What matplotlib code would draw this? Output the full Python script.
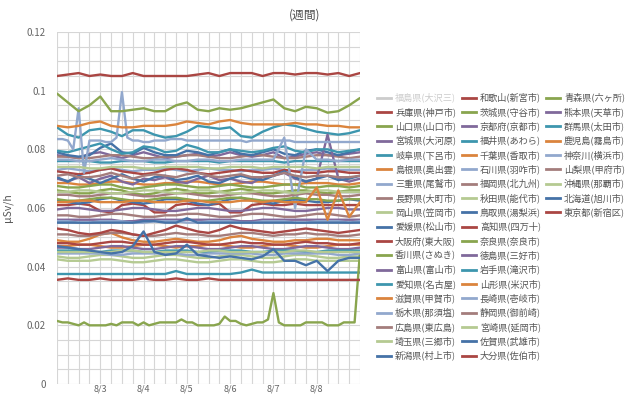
import numpy as np
import matplotlib
matplotlib.use("Agg")
import matplotlib.pyplot as plt
from matplotlib.lines import Line2D

plt.rcParams['font.family'] = ['Noto Sans CJK JP', 'DejaVu Sans']

# readings in nSv/h (divide by 1000 for µSv/h), evenly spaced from 8/2 00:00 to 8/9 00:00
hyogo = [105,105.5,106,105,105.5,105,105,106,105,105,105,105,105,105.5,106,105,106,106,106,105,106,106,105.5,106,106,105.5,106,105,106]
yamaguchi = [66,65.5,65,65,66,66.5,66,65,64.5,65,66,66.5,66,65,65,65.5,66,66.5,66,65,65,65.5,66,66,65.5,65,65.5,66,66]
miyagi = [78,77.5,77,78.5,79,78,77,78,79,78,77,77.5,78,78.5,77.5,78,79,78,77.5,78,79,77,77.5,78.5,79,78,78,78.5,79]
gifu = [87.5,85,84,86.5,87,86,84.5,86.5,86.5,85,84,84.5,86,88,87.5,87,87.5,84.5,84,86,87.5,88.5,88,87,86,85.5,85,85.5,86.5]
shimane = [68.5,68.5,68,68,68.5,69,69,68.5,68,68,68.5,68.5,69,69,68.5,68,68,68.5,69,69,68.5,68,68,68.5,68.5,68.5,68,68,68.5]
mie = [73,73.5,73,72.5,73,73.5,73,72.5,73,73,73.5,73,72.5,73,73.5,73,73,72.5,73,73,73.5,73,72.5,73,73,73.5,73,73,73]
nagano = [77.5,77.5,77,77,77.5,78,78,77.5,77,77,77.5,77.5,78,78,77.5,77,77,77.5,78,78,77.5,77,77,77.5,78,78,77.5,77,77.5]
okayama = [42.5,42,42,42,42.5,42.5,42,41.5,41.5,42,42.5,42.5,42,41.5,41.5,42,42.5,42.5,42,41.5,41.5,42,42.5,42.5,42,42,42,42,42]
ehime = [79,78,77.5,78,80.5,82,79,78.5,80.5,79,78,78,79.5,79,78,79,80,78.5,78,79,80,78.5,78,79.5,80,79,78,79,80]
osaka = [72.5,72,71.5,72,73,73.5,72.5,72,71.5,72,73,73.5,73,72,71.5,72,72.5,73,72.5,72,72,73,72.5,72,72,72.5,72.5,72,72]
kagawa = [67.5,67,67,67.5,68,68,67,66.5,67,67.5,68,68,67.5,67,67,67.5,68,67.5,67,67,67.5,68,68,67,67,67.5,67.5,67,67.5]
toyama = [70,69,70.5,68.5,70,71,69,68,70,69.5,70.5,69,68.5,70,71,69.5,70,69,68.5,70.5,71,72,70,69,70,85,70,69,70]
aichi = [79.5,79,80,81,82,80,78.5,79,81,80.5,79,79.5,81.5,80.5,79,79,80,79.5,79,79.5,80.5,81,79.5,79,80,80,79,79.5,80]
shiga = [49,48.5,48.5,49.5,51,51.5,50,49,48.5,48.5,49,49.5,49,48.5,48.5,49,50,50.5,49.5,49,48.5,48.5,49,49,49.5,49.5,49,49,49]
tochigi = [83.5,83.5,83,80,94,72,83,83,83,82.5,
           82.5,84,99.5,84,83,83,82.5,82.5,83,83,
           83,83.5,83.5,83.5,83,83,83,83,83,83,
           83,83,83,83,83,82.5,83,83,83,83,
           83,83,83,83,82.5,82.5,82.5,82.5,82.5,82.5,
           82.5,82.5,82.5,82.5,82.5,82.5,82.5]
hiroshima = [51,51,50.5,50.5,51,51.5,51.5,51,50.5,50.5,51,51.5,51,51,50.5,50.5,51,51.5,51.5,51,50.5,51,51,51.5,51,51,50.5,50.5,51]
saitama = [43.5,43,43,43.5,44,44,43.5,43,43,43.5,44,44,43.5,43,43,43.5,44,44,43.5,43,43,43.5,44,44,43.5,43,43,43.5,43.5]
niigata = [70.5,69,71,70,68.5,70,71.5,70,69,70.5,71,69.5,70,71,69,68.5,70,71,70,69.5,71,72.5,70.5,69,70,71,69.5,70,71]
wakayama = [61,61,61.5,61,59,58.5,61,61.5,61,58.5,58.5,61,61.5,61,61,61.5,58.5,58.5,61,61.5,61,61,61.5,61,61,61,61,61,61]
ibaraki = [99,96,93,95,98,93,93,93.5,94,93,93,95,96,93.5,93,94,93.5,94,95,96,97,94,93,94.5,94,92.5,93,95,97.5]
kyoto = [59.5,60,60,59.5,59,59,59.5,60,60,59.5,59,59,59.5,60,60,59.5,59,59,59.5,60,60,59.5,59,59,59.5,60,60,59.5,59.5]
fukui = [76,76,76,76,75.5,75.5,76,76,76,75.5,75.5,76,76,76,76,75.5,76,76,76,76,76,75.5,76,76,76,76,76,76,76]
chiba = [88,87.5,88,89,89.5,88,87.5,87.5,88,88,88,88.5,89.5,89,88.5,89.5,90,89,88.5,88.5,88.5,88.5,89,88.5,88.5,88,88,87.5,87.5]
ishikawa = [76.5,76.5,76,76,76.5,77,76.5,76,76,76.5,76.5,76,76,76.5,76.5,76,76,76.5,76.5,76.5,76.5,84,60,80,76.5,76.5,76,76.5,76.5]
fukuoka = [57.5,57.5,57,57,57.5,58,58,57.5,57,57,57.5,57.5,58,58,57.5,57,57,57.5,58,58,57.5,57,57,57.5,58,58,57.5,57,57.5]
akita = [74,74,74,73.5,73.5,74,74,74,73.5,73.5,74,74,74,74,73.5,73.5,74,74,74,73.5,74,74,74,74,73.5,74,74,74,74]
tottori = [62.5,62,61.5,62,63,63.5,62.5,62,61.5,62,63,63,62.5,61.5,61,62,63,63.5,62.5,62,61.5,62.5,63,62.5,62,62,62.5,63,62.5]
kochi = [53,52.5,51.5,51,51.5,52.5,52,51,50.5,51.5,52.5,54,53,52,51.5,52.5,54,53,52.5,52,51.5,52,52.5,53,52.5,52,51.5,52,52.5]
nara = [63,62.5,62.5,63,63.5,63.5,63,62.5,62.5,63,63.5,63.5,63,62.5,62.5,63,63.5,63.5,63,62.5,62.5,63,63.5,63,63,62.5,62.5,63,63]
tokushima = [56,56,56,56,56,56,55.5,55.5,56,56,56,56,56,56,56,56,56,55.5,55.5,56,56,56,56,56,56,56,56,56,56]
iwate = [37.5,37.5,37.5,37.5,37.5,37.5,37.5,37.5,37.5,37.5,37.5,38.5,37.5,37.5,37.5,37.5,37.5,38,39,38,38,38,38,38,38,38,38,38,38]
yamagata = [47,47,47.5,47.5,47,46.5,46.5,47,47.5,47.5,47,46.5,47,47,47.5,47.5,47,46.5,46.5,47,47.5,47.5,47,46.5,46.5,47,47.5,47.5,47.5]
nagasaki = [55.5,55.5,55,55,55.5,55.5,55.5,55,55,55.5,55.5,55.5,55,55,55.5,55.5,55.5,55,55,55.5,55.5,55.5,55,55,55.5,55.5,55.5,55,55.5]
shizuoka = [64.5,64.5,64,64,64.5,65,65,64.5,64,64,64.5,65,65,64.5,64,64,64.5,65,65,64.5,64,64,64.5,65,64.5,64.5,64,64,64.5]
miyazaki = [65.5,65.5,66,66,65.5,65,65,65.5,66,66,65.5,65,65.5,66,66,65.5,65,65,65.5,66,66,65.5,65,65.5,66,66,65.5,65.5,65.5]
saga = [55,55,55,55,55,55,55,55,55.5,55.5,55,55,56.5,55,55,55,55,55,55,55,55,55,55,55,55,55,55,55,55]
oita = [48,48,47.5,47.5,48,48.5,48.5,48,47.5,47.5,48,48.5,48.5,48,47.5,47.5,48,48.5,48,48,47.5,47.5,48,48.5,48,48,47.5,47.5,48]
aomori = [21.5,21,21,20.5,20,21,20,20,20,20,
          20.5,20,21,21,21,20,21,20,20.5,21,
          21,21,21,22,21,21,20,20,20,20,
          20.5,23,21.5,21.5,20.5,20,20.5,21,21,22,
          31,21,20,20,20,20,21,21,21,21,
          20,20,20,21,21,21,45]
kumamoto = [46.5,46.5,46,46,46.5,47,47,46.5,46,46,46.5,47,47,46.5,46,46,46.5,47,47,46.5,46,46,46.5,47,47,46.5,46,46,46.5]
gunma = [45.5,45.5,45.5,45,45,45.5,45.5,45.5,45,45,45.5,45.5,45.5,45,45,45.5,45.5,45.5,45,45,45.5,45.5,45.5,45,45,45.5,45.5,45.5,45.5]
kagoshima = [62,62,62.5,62.5,62,62,62,62.5,62.5,62,62,62,62.5,62.5,62,62,62,62.5,62.5,62,62.5,62,62,62,67,56,66,57,62]
kanagawa = [44.5,44.5,44.5,44.5,44.5,44,44,44.5,44.5,44.5,44.5,44.5,44,44,44.5,44.5,44.5,44.5,44.5,44,44,44.5,44.5,44.5,44.5,44.5,44,44,44.5]
yamanashi = [71,71.5,70.5,70.5,71,72,71,70,71,71.5,71,70.5,71.5,72,71,70.5,71,71.5,70.5,70.5,71,72,71,70.5,71,71,70.5,70.5,71]
okinawa = [45,45,45,45,45,45,45.5,45.5,45,45,45,45,45,45,45.5,45.5,45,45,45,45,45,45,45.5,45.5,45,45,45,45,45]
hokkaido = [47,46.5,46,45.5,45,44.5,45,47,52,45,44,44.5,47.5,44,43.5,43,43.5,43,42.5,43.5,46,42,42,40.5,42,38.5,42,43,43]
tokyo = [35.5,36,35.5,35.5,36,35.5,35.5,35.5,36,35.5,35.5,36,35.5,35.5,36,35.5,35.5,35.5,35.5,35.5,35.5,35.5,35.5,35.5,35.5,35.5,35.5,35.5,35.5]

series_names = ['福島県(大沢三)', '兵庫県(神戸市)', '山口県(山口市)', '宮城県(大河原)', '岐阜県(下呂市)',
                '島根県(奥出雲)', '三重県(尾鷲市)', '長野県(大町市)', '岡山県(笠岡市)', '愛媛県(松山市)',
                '大阪府(東大阪)', '香川県(さぬき)', '富山県(富山市)', '愛知県(名古屋)', '滋賀県(甲賀市)',
                '栃木県(那須塩)', '広島県(東広島)', '埼玉県(三郷市)', '新潟県(村上市)', '和歌山(新宮市)',
                '茨城県(守谷市)', '京都府(京都市)', '福井県(あわら)', '千葉県(香取市)', '石川県(羽咋市)',
                '福岡県(北九州)', '秋田県(能代市)', '鳥取県(湯梨浜)', '高知県(四万十)', '奈良県(奈良市)',
                '徳島県(三好市)', '岩手県(滝沢市)', '山形県(米沢市)', '長崎県(壱岐市)', '静岡県(御前崎)',
                '宮崎県(延岡市)', '佐賀県(武雄市)', '大分県(佐伯市)', '青森県(六ヶ所)', '熊本県(天草市)',
                '群馬県(太田市)', '鹿児島(霧島市)', '神奈川(横浜市)', '山梨県(甲府市)', '沖縄県(那覇市)',
                '北海道(旭川市)', '東京都(新宿区)']

series_values = [None, hyogo, yamaguchi, miyagi, gifu, shimane, mie, nagano, okayama, ehime,
                 osaka, kagawa, toyama, aichi, shiga, tochigi, hiroshima, saitama, niigata, wakayama,
                 ibaraki, kyoto, fukui, chiba, ishikawa, fukuoka, akita, tottori, kochi, nara,
                 tokushima, iwate, yamagata, nagasaki, shizuoka, miyazaki, saga, oita, aomori, kumamoto,
                 gunma, kagoshima, kanagawa, yamanashi, okinawa, hokkaido, tokyo]

palette = ['#4572A7', '#AA4643', '#89A54E', '#80699B', '#3D96AE',
           '#DB843D', '#92A8CD', '#A47D7C', '#B5CA92']

day_ticks = [1, 2, 3, 4, 5, 6]
day_labels = ['8/3', '8/4', '8/5', '8/6', '8/7', '8/8']
y_ticks = [0, 0.02, 0.04, 0.06, 0.08, 0.1, 0.12]
y_labels = ['0', '0.02', '0.04', '0.06', '0.08', '0.1', '0.12']
n_days = 7

W, H = 640, 396
fig = plt.figure(figsize=(W / 100, H / 100), dpi=100)
fig.patch.set_facecolor('white')
ax = fig.add_axes([57 / W, 12 / H, 303 / W, 352 / H])

for i, vals in enumerate(series_values):
    if vals is None:
        continue
    v = np.asarray(vals, dtype=float) / 1000.0
    x = np.linspace(0, n_days, len(v))
    ax.plot(x, v, color=palette[i % len(palette)], lw=1.7,
            solid_joinstyle='round', solid_capstyle='round', zorder=3)

ax.set_xlim(0, n_days)
ax.set_ylim(0, 0.12)
ax.set_xticks(day_ticks)
ax.set_xticklabels(day_labels)
ax.set_xticks(np.arange(0, n_days + 0.001, 0.25), minor=True)
ax.set_yticks(y_ticks)
ax.set_yticklabels(y_labels)
ax.set_yticks(np.arange(0, 0.1201, 0.005), minor=True)
ax.grid(True, which='both', color='#D6D6D6', lw=0.8, zorder=0)
ax.set_axisbelow(True)
for s in ax.spines.values():
    s.set_visible(False)
ax.tick_params(axis='both', which='both', length=0)
ax.tick_params(axis='y', labelsize=7, labelcolor='#666666', pad=8)
ax.tick_params(axis='x', labelsize=6.5, labelcolor='#666666', pad=0.5)

fig.text(305 / W, 1 - 15 / H, '(週間)', ha='center', va='center',
         fontsize=8.5, color='#4D4D4D')
fig.text(8 / W, 1 - 208 / H, 'μSv/h', rotation=90, ha='center', va='center',
         fontsize=7.5, color='#555555')

# legend laid out like the original: 19 rows per column
col_x = [377, 462, 546]
row_y0, row_dy, rows = 97.7, 14.33, 19
for k, name in enumerate(series_names):
    col, row = divmod(k, rows)
    x0 = col_x[col]
    y = row_y0 + row * row_dy
    hidden = series_values[k] is None
    lc = '#CCCCCC' if hidden else palette[k % len(palette)]
    tc = '#CCCCCC' if hidden else '#555555'
    fig.add_artist(Line2D([x0 / W, (x0 + 14) / W], [1 - y / H, 1 - y / H],
                          color=lc, lw=2, transform=fig.transFigure))
    fig.text((x0 + 18) / W, 1 - y / H, name, ha='left', va='center',
             fontsize=6.6, color=tc)

fig.savefig('out.png', dpi=100, facecolor='white')
